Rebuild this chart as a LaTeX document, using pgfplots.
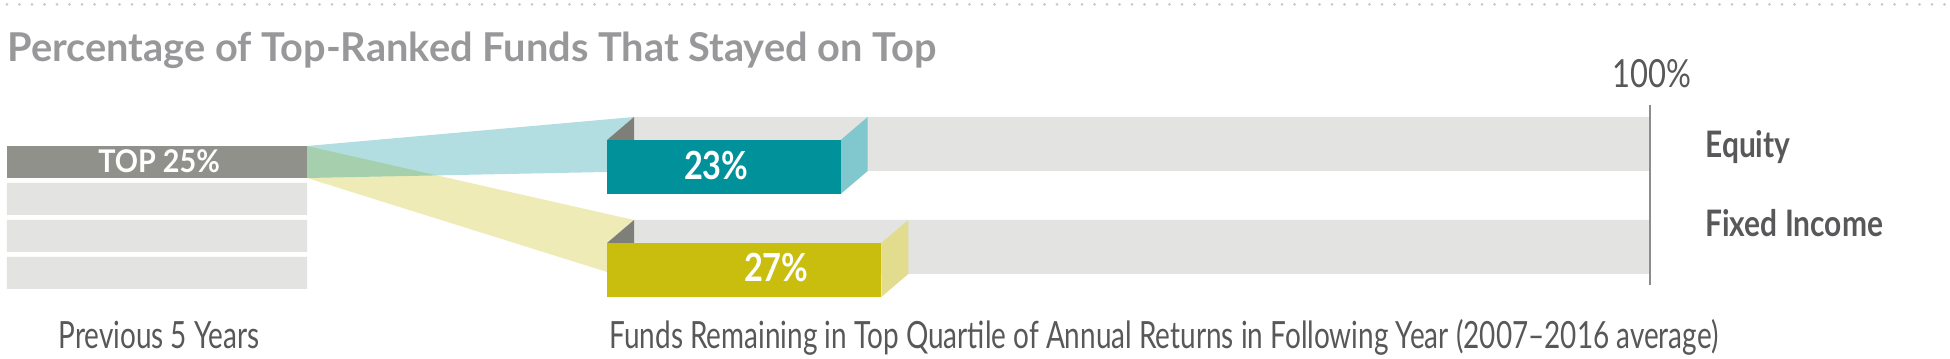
\documentclass[border=0pt]{standalone}
\usepackage{pgfplots}
\pgfplotsset{compat=1.18}
\usepackage{fontspec}
\setmainfont{Lato}
\newfontfamily\titlefont{Lato}
\newfontfamily\condfont[FakeStretch=0.745]{Lato}
\newfontfamily\condlabel[FakeStretch=0.80]{Lato}
\newfontfamily\condbold[FakeStretch=0.82]{Lato}
\newfontfamily\condnum[FakeStretch=0.84]{Lato}
\newfontfamily\condtop[FakeStretch=0.92]{Lato}

\definecolor{titlegray}{RGB}{152,152,154}
\definecolor{labelgray}{RGB}{88,88,90}
\definecolor{topbar}{RGB}{145,145,140}
\definecolor{lightbar}{RGB}{227,227,225}
\definecolor{darktri}{RGB}{127,127,122}
\definecolor{tealc}{RGB}{0,145,155}
\definecolor{tealside}{RGB}{128,200,205}
\definecolor{yellowc}{RGB}{201,190,14}
\definecolor{yellowside}{RGB}{226,220,142}
\definecolor{vline}{RGB}{140,140,140}
\definecolor{dotgray}{RGB}{200,200,200}

\begin{document}
\begin{tikzpicture}
% ---------- left axis: previous 5 years quartiles ----------
\begin{axis}[at={(0,0)}, anchor=south west,
  width=780pt, height=143.6pt, scale only axis,
  xmin=-0.023333, xmax=6.476667, ymin=0, ymax=359, y dir=reverse,
  hide axis, clip=false]
\addplot[xbar, bar width=32, bar shift=0, fill=lightbar, draw=none] coordinates {(1,199) (1,236) (1,273)};
\addplot[xbar, bar width=32, bar shift=0, fill=topbar, draw=none] coordinates {(1,162)};
\node[anchor=base, inner sep=0, text=white, font=\condtop\bfseries\fontsize{12.5}{13}\selectfont] at (axis cs:0.507,173) {TOP 25\%};
\end{axis}
% ---------- right axis: funds remaining in top quartile ----------
\begin{axis}[at={(0,0)}, anchor=south west,
  width=780pt, height=143.6pt, scale only axis,
  xmin=-62.402, xmax=129.528, ymin=0, ymax=359, y dir=reverse,
  hide axis, clip=false]
% funnels
\addplot[fill=yellowc, fill opacity=0.3, draw=none] coordinates {(-32.185,146) (0,220) (-2.657,243) (-2.657,272) (-32.185,178)} -- cycle;
\addplot[fill=tealc, fill opacity=0.3, draw=none] coordinates {(-32.185,146) (0,117) (-2.657,140) (-2.657,172) (-32.185,178)} -- cycle;
% 100% tracks
\addplot[xbar, bar width=54, bar shift=0, fill=lightbar, draw=none] coordinates {(100,144) (100,247)};
% dark corner triangles
\addplot[fill=darktri, draw=none] coordinates {(0,117) (0,140) (-2.657,140)} -- cycle;
\addplot[fill=darktri, draw=none] coordinates {(0,220) (0,243) (-2.657,243)} -- cycle;
% side faces
\addplot[fill=tealside, draw=none] coordinates {(23,117) (23,171) (20.343,194) (20.343,140)} -- cycle;
\addplot[fill=yellowside, draw=none] coordinates {(27,220) (27,274) (24.343,297) (24.343,243)} -- cycle;
% front faces
\addplot[xbar, bar width=54, bar shift=0, fill=tealc, draw=none, xshift=-10.8pt] coordinates {(23,167)};
\addplot[xbar, bar width=54, bar shift=0, fill=yellowc, draw=none, xshift=-10.8pt] coordinates {(27,270)};
% 100% line
\addplot[draw=vline, line width=0.8pt] coordinates {(100,105) (100,285)};
% labels
\node[anchor=base, inner sep=0, text=white, font=\condnum\bfseries\fontsize{15.5}{16}\selectfont] at (axis cs:8.1,180) {23\%};
\node[anchor=base, inner sep=0, text=white, font=\condnum\bfseries\fontsize{15.5}{16}\selectfont] at (axis cs:14.0,282) {27\%};
\node[anchor=base, inner sep=0, text=labelgray, font=\condlabel\fontsize{15.5}{16}\selectfont] at (axis cs:100.2,88) {100\%};
\node[anchor=base west, inner sep=0, text=labelgray, font=\condbold\bfseries\fontsize{14.6}{15}\selectfont] at (axis cs:105.4,158) {Equity};
\node[anchor=base west, inner sep=0, text=labelgray, font=\condbold\bfseries\fontsize{14.6}{15}\selectfont] at (axis cs:105.4,237) {Fixed Income};
\end{axis}
% ---------- page texts (pixel grid) ----------
\begin{scope}[shift={(0,143.6pt)}, x=0.4pt, y=-0.4pt]
\draw[dotgray, line width=1.2pt, line cap=round, dash pattern=on 0pt off 5pt] (7,4.5) -- (1946,4.5);
\node[anchor=base west, inner sep=0, text=titlegray, font=\titlefont\bfseries\fontsize{15.9}{17}\selectfont] at (7,62) {Percentage of Top-Ranked Funds That Stayed on Top};
\node[anchor=base west, inner sep=0, text=labelgray, font=\condfont\fontsize{15}{16}\selectfont] at (58,349) {Previous 5 Years};
\node[anchor=base west, inner sep=0, text=labelgray, font=\condfont\fontsize{15}{16}\selectfont] at (609,349) {Funds Remaining in Top Quartile of Annual Returns in Following Year (2007–2016 average)};
\end{scope}
\pgfresetboundingbox
\path (0,0) rectangle (780pt,143.6pt);
\end{tikzpicture}
\end{document}
